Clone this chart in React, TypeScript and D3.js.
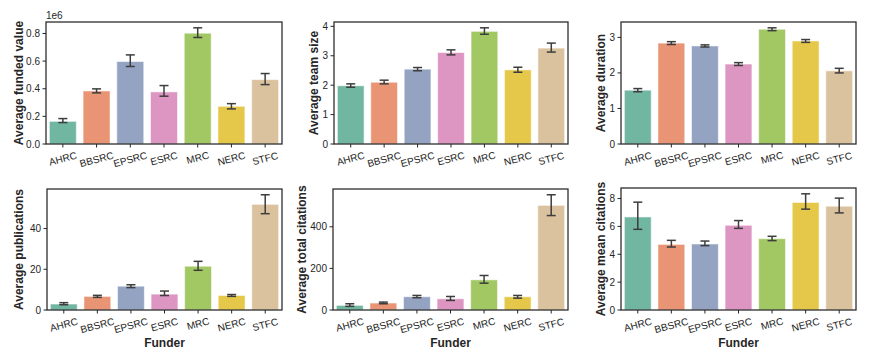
import React from 'react';
import * as d3 from 'd3';

const funders = ['AHRC', 'BBSRC', 'EPSRC', 'ESRC', 'MRC', 'NERC', 'STFC'];
const palette = ['#71b6a1', '#e99575', '#95a3c3', '#dc96c1', '#a2c864', '#e5c849', '#dbc29e'];

// means with lower / upper error bar ends
const fundedValueMean = [0.164e6, 0.384e6, 0.597e6, 0.377e6, 0.802e6, 0.273e6, 0.466e6];
const fundedValueLo = [0.155e6, 0.37e6, 0.561e6, 0.346e6, 0.771e6, 0.254e6, 0.43e6];
const fundedValueHi = [0.184e6, 0.399e6, 0.645e6, 0.423e6, 0.841e6, 0.292e6, 0.51e6];

const teamSizeMean = [1.98, 2.1, 2.545, 3.11, 3.83, 2.52, 3.26];
const teamSizeLo = [1.93, 2.045, 2.49, 3.03, 3.73, 2.44, 3.125];
const teamSizeHi = [2.045, 2.17, 2.6, 3.2, 3.95, 2.61, 3.43];

const durationMean = [1.515, 2.84, 2.76, 2.25, 3.23, 2.9, 2.06];
const durationLo = [1.47, 2.8, 2.73, 2.21, 3.19, 2.86, 2.0];
const durationHi = [1.56, 2.88, 2.79, 2.29, 3.27, 2.94, 2.13];

const publicationsMean = [2.93, 6.67, 11.7, 7.8, 21.5, 7.15, 51.9];
const publicationsLo = [2.6, 6.2, 11.0, 7.1, 19.5, 6.7, 47.3];
const publicationsHi = [3.6, 7.2, 12.4, 9.3, 23.9, 7.6, 56.6];

const totalCitationsMean = [22.3, 33.5, 63.7, 54, 145, 63.7, 503];
const totalCitationsLo = [17.5, 30, 59, 46, 129, 57, 454];
const totalCitationsHi = [30, 38, 70, 65, 166, 70, 554];

const meanCitationsMean = [6.68, 4.71, 4.74, 6.08, 5.12, 7.72, 7.45];
const meanCitationsLo = [5.79, 4.52, 4.62, 5.86, 4.98, 7.24, 6.97];
const meanCitationsHi = [7.74, 5.0, 4.95, 6.42, 5.29, 8.34, 8.03];

const fundedValueTicks = [0, 0.2e6, 0.4e6, 0.6e6, 0.8e6];
const teamSizeTicks = [0, 1, 2, 3, 4];
const durationTicks = [0, 1, 2, 3];
const publicationsTicks = [0, 20, 40];
const totalCitationsTicks = [0, 200, 400];
const meanCitationsTicks = [0, 2, 4, 6, 8];

const panels = [
  { label: 'Average funded value', mean: fundedValueMean, lo: fundedValueLo, hi: fundedValueHi, ticks: fundedValueTicks, fmt: (v: number) => (v / 1e6).toFixed(1), offset: '1e6', x0: 46, x1: 282, y0: 22, y1: 144, labelX: 22.5, xlabel: false },
  { label: 'Average team size', mean: teamSizeMean, lo: teamSizeLo, hi: teamSizeHi, ticks: teamSizeTicks, fmt: (v: number) => String(v), offset: '', x0: 334, x1: 568, y0: 22, y1: 144, labelX: 318, xlabel: false },
  { label: 'Average duration', mean: durationMean, lo: durationLo, hi: durationHi, ticks: durationTicks, fmt: (v: number) => String(v), offset: '', x0: 621, x1: 856, y0: 22, y1: 144, labelX: 605, xlabel: false },
  { label: 'Average publications', mean: publicationsMean, lo: publicationsLo, hi: publicationsHi, ticks: publicationsTicks, fmt: (v: number) => String(v), offset: '', x0: 47, x1: 282, y0: 189, y1: 310, labelX: 23, xlabel: true },
  { label: 'Average total citations', mean: totalCitationsMean, lo: totalCitationsLo, hi: totalCitationsHi, ticks: totalCitationsTicks, fmt: (v: number) => String(v), offset: '', x0: 333, x1: 568, y0: 189, y1: 310, labelX: 305.5, xlabel: true },
  { label: 'Average mean citations', mean: meanCitationsMean, lo: meanCitationsLo, hi: meanCitationsHi, ticks: meanCitationsTicks, fmt: (v: number) => String(v), offset: '', x0: 621, x1: 856, y0: 188, y1: 310, labelX: 604.5, xlabel: true },
];

const font = '"Liberation Sans", Arial, sans-serif';
const ink = '#262626';
const rot = 15;

const Panel = ({ p }: { p: any }) => {
  const x = d3.scaleBand<string>().domain(funders).range([p.x0, p.x1]).paddingInner(0.2).paddingOuter(0.1);
  const top = (d3.max(p.hi as number[]) as number) * 1.05;
  const y = d3.scaleLinear().domain([0, top]).range([p.y1, p.y0]);
  const bw = x.bandwidth();
  const cap = 4.5;
  return (
    <g>
      {funders.map((f, i) => (
        <rect key={f} x={x(f)} y={y(p.mean[i])} width={bw} height={y(0) - y(p.mean[i])}
          fill={palette[i]} stroke="#ffffff" strokeOpacity={0.55} strokeWidth={1} />
      ))}
      {funders.map((f, i) => {
        const cx = (x(f) as number) + bw / 2;
        return (
          <g key={f} stroke="#3d3d3d" strokeWidth={1.5}>
            <line x1={cx} x2={cx} y1={y(p.lo[i])} y2={y(p.hi[i])} />
            <line x1={cx - cap} x2={cx + cap} y1={y(p.lo[i])} y2={y(p.lo[i])} />
            <line x1={cx - cap} x2={cx + cap} y1={y(p.hi[i])} y2={y(p.hi[i])} />
          </g>
        );
      })}
      <rect x={p.x0} y={p.y0} width={p.x1 - p.x0} height={p.y1 - p.y0} fill="none" stroke={ink} strokeWidth={1.25} />
      {p.ticks.map((t: number) => (
        <g key={t}>
          <line x1={p.x0 - 3.5} x2={p.x0} y1={y(t)} y2={y(t)} stroke={ink} strokeWidth={1} />
          <text x={p.x0 - 6} y={y(t)} dy="0.35em" textAnchor="end" fontSize={10} fill={ink} fontFamily={font}>{p.fmt(t)}</text>
        </g>
      ))}
      {funders.map((f) => {
        const cx = (x(f) as number) + bw / 2;
        // rotated label, box top aligned under the tick
        const w = f.length * 6.3;
        const h = 10;
        const rad = (rot * Math.PI) / 180;
        const bh = w * Math.sin(rad) + h * Math.cos(rad);
        const cy = p.y1 + 6.5 + bh / 2;
        return (
          <g key={f}>
            <line x1={cx} x2={cx} y1={p.y1} y2={p.y1 + 3.5} stroke={ink} strokeWidth={1} />
            <text x={cx} y={cy} dy="0.35em" textAnchor="middle" fontSize={10} fill={ink} fontFamily={font}
              transform={`rotate(${-rot},${cx},${cy})`}>{f}</text>
          </g>
        );
      })}
      {p.offset && (
        <text x={p.x0} y={p.y0 - 3} fontSize={10} fill={ink} fontFamily={font}>{p.offset}</text>
      )}
      <text x={p.labelX} y={(p.y0 + p.y1) / 2} textAnchor="middle" fontSize={12} fontWeight="bold" fill={ink}
        fontFamily={font} transform={`rotate(-90,${p.labelX},${(p.y0 + p.y1) / 2})`}>{p.label}</text>
      {p.xlabel && (
        <text x={(p.x0 + p.x1) / 2} y={347} textAnchor="middle" fontSize={12} fontWeight="bold" fill={ink} fontFamily={font}>Funder</text>
      )}
    </g>
  );
};

export default function App() {
  return (
    <svg width={872} height={363} style={{ position: 'absolute', left: 0, top: 0, background: '#fff' }}>
      {panels.map((p) => <Panel key={p.label} p={p} />)}
    </svg>
  );
}
